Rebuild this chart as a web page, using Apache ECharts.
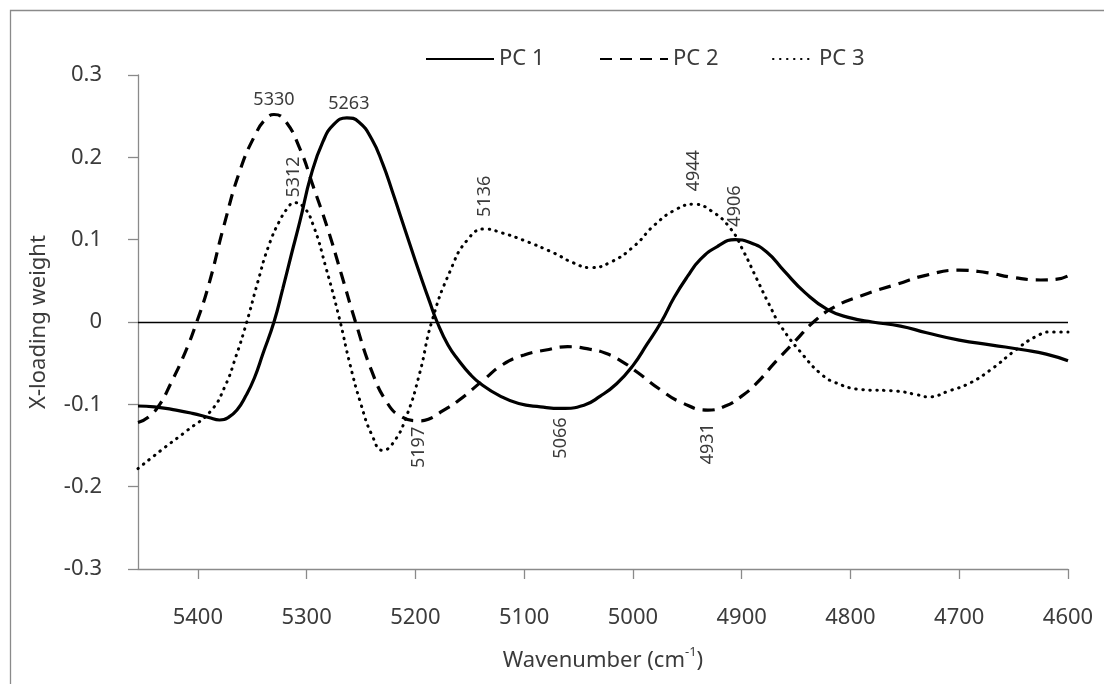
<!DOCTYPE html>
<html>
<head>
<meta charset="utf-8">
<title>X-loading weights</title>
<script src="https://cdn.jsdelivr.net/npm/echarts@6/dist/echarts.min.js"></script>
<style>
  html, body { margin: 0; padding: 0; background: #fff; }
  #chart { width: 1104px; height: 684px; }
</style>
</head>
<body>
<div id="chart"></div>
<script>
// Wavenumber axis ticks (cm-1)
const xTicks = [5400, 5300, 5200, 5100, 5000, 4900, 4800, 4700, 4600];

// PC 1 loading weights
const pc1Wn = [5455, 5440, 5420, 5405, 5390, 5380, 5372, 5364, 5356, 5348, 5340, 5330, 5322, 5314, 5306,
  5296, 5285, 5275, 5263, 5252, 5240, 5230, 5221, 5214, 5205, 5195, 5187, 5180, 5170, 5160, 5150,
  5140, 5122, 5105, 5085, 5066, 5045, 5030, 5015, 5000, 4987, 4974, 4962, 4950, 4938, 4922, 4906,
  4893, 4877, 4861, 4842, 4821, 4800, 4780, 4754, 4730, 4700, 4670, 4640, 4620, 4600];
const pc1Val = [-0.102, -0.103, -0.107, -0.111, -0.116, -0.119, -0.116, -0.107, -0.09, -0.068, -0.038, 0.0, 0.04, 0.082, 0.123,
  0.178, 0.219, 0.240, 0.248, 0.243, 0.222, 0.192, 0.158, 0.130, 0.094, 0.055, 0.025, 0.0, -0.028, -0.047, -0.063,
  -0.075, -0.090, -0.099, -0.103, -0.105, -0.101, -0.09, -0.075, -0.053, -0.027, 0.0, 0.03, 0.055, 0.076, 0.092, 0.100,
  0.097, 0.085, 0.062, 0.036, 0.015, 0.005, 0.0, -0.005, -0.013, -0.022, -0.028, -0.034, -0.039, -0.047];

// PC 2 loading weights
const pc2Wn = [5455, 5445, 5435, 5425, 5412, 5401, 5390, 5376, 5361, 5347, 5338, 5330, 5320, 5306,
  5294, 5281, 5268, 5255, 5240, 5226, 5214, 5197, 5188, 5175, 5160, 5137, 5120, 5100, 5080, 5060,
  5040, 5025, 5010, 4995, 4975, 4955, 4931, 4915, 4900, 4886, 4870, 4850, 4834, 4815, 4790, 4757,
  4730, 4700, 4675, 4650, 4625, 4610, 4600];
const pc2Val = [-0.122, -0.115, -0.1, -0.075, -0.038, 0.0, 0.045, 0.117, 0.185, 0.228, 0.246, 0.252, 0.245, 0.21,
  0.165, 0.115, 0.058, 0.0, -0.06, -0.098, -0.114, -0.12, -0.118, -0.108, -0.095, -0.07, -0.052, -0.04, -0.034, -0.03,
  -0.033, -0.038, -0.048, -0.062, -0.082, -0.098, -0.107, -0.102, -0.09, -0.074, -0.05, -0.022, 0.0, 0.018, 0.032, 0.046,
  0.057, 0.063, 0.06, 0.054, 0.051, 0.052, 0.056];

// PC 3 loading weights
const pc3Wn = [5455, 5430, 5410, 5388, 5375, 5365, 5355, 5345, 5335, 5324, 5317, 5312, 5303, 5294,
  5282, 5270, 5260, 5250, 5240, 5230, 5220, 5208, 5196, 5185, 5168, 5152, 5136, 5120, 5100, 5073,
  5055, 5039, 5020, 4999, 4980, 4960, 4944, 4928, 4910, 4898, 4886, 4875, 4864, 4843, 4828, 4815,
  4790, 4757, 4740, 4728, 4710, 4690, 4670, 4650, 4630, 4615, 4600];
const pc3Val = [-0.178, -0.152, -0.132, -0.108, -0.078, -0.042, 0.0, 0.048, 0.092, 0.125, 0.139, 0.145, 0.14, 0.118,
  0.065, 0.005, -0.052, -0.1, -0.137, -0.156, -0.146, -0.114, -0.062, 0.0, 0.062, 0.1, 0.113, 0.108, 0.099, 0.084,
  0.072, 0.066, 0.073, 0.092, 0.118, 0.137, 0.143, 0.135, 0.113, 0.085, 0.052, 0.022, -0.005, -0.041, -0.062, -0.073,
  -0.082, -0.084, -0.088, -0.091, -0.084, -0.074, -0.057, -0.036, -0.018, -0.012, -0.012];

// Annotated band positions for each component
const pc1Peaks = [5263, 5066, 4906];
const pc2Peaks = [5330, 5197, 4931];
const pc3Peaks = [5312, 5136, 4944];

// Placement of each band annotation
const labelPlacement = {
  5330: { rotate: 0, position: 'top', distance: 6, offset: [0, 0] },
  5263: { rotate: 0, position: 'top', distance: 5, offset: [2, 0] },
  5312: { rotate: 90, position: 'top', distance: 6, offset: [-1, 0] },
  5136: { rotate: 90, position: 'top', distance: 14, offset: [-2, 0] },
  4944: { rotate: 90, position: 'top', distance: 13, offset: [0, 0] },
  4906: { rotate: 90, position: 'top', distance: 9, offset: [4, 0] },
  5197: { rotate: 90, position: 'bottom', distance: 9, offset: [3, 0] },
  5066: { rotate: 90, position: 'bottom', distance: 9, offset: [0, 0] },
  4931: { rotate: 90, position: 'bottom', distance: 10, offset: [-3, 0] }
};

const FONT = '"Noto Sans", "Open Sans", sans-serif';
const TEXT = '#3b3b3b';
const AXIS = '#8a8a8a';

function buildData(wn, val, peaks) {
  return wn.map((w, i) => {
    const item = { value: [w, val[i]] };
    if (peaks.indexOf(w) >= 0) {
      const p = labelPlacement[w];
      const vertical = p.rotate !== 0;
      item.label = {
        show: true,
        formatter: String(w),
        position: p.position,
        distance: p.distance,
        rotate: p.rotate,
        offset: p.offset,
        align: vertical ? (p.position === 'top' ? 'left' : 'right') : 'center',
        verticalAlign: vertical ? 'middle' : 'bottom',
        fontFamily: FONT,
        fontSize: 18,
        color: TEXT
      };
    }
    return item;
  });
}

const chart = echarts.init(document.getElementById('chart'), null, { renderer: 'canvas' });

function legendFor(name, left, width) {
  return {
    data: [name],
    left: left,
    top: 48,
    padding: 0,
    itemWidth: width,
    itemHeight: 14,
    selectedMode: false,
    itemStyle: { opacity: 0 },
    textStyle: { fontFamily: FONT, fontSize: 22, color: TEXT }
  };
}

const lineCommon = {
  type: 'line',
  symbol: 'circle',
  symbolSize: 0,
  showSymbol: true,
  smooth: 0.5,
  silent: true,
  animation: false,
  itemStyle: { color: '#000' },
  label: { show: false }
};

chart.setOption({
  backgroundColor: '#fff',
  animation: false,
  graphic: [
    {
      type: 'polyline',
      silent: true,
      shape: { points: [[10.5, 700], [10.5, 10.5], [1104, 10.5]] },
      style: { stroke: AXIS, lineWidth: 1.3, fill: null }
    }
  ],
  legend: [
    legendFor('PC 1', 425, 68),
    legendFor('PC 2', 599, 68),
    legendFor('PC 3', 772, 41)
  ],
  grid: { left: 138, right: 36, top: 75, bottom: 115, containLabel: false },
  xAxis: {
    type: 'value',
    inverse: true,
    min: 4600,
    max: 5455,
    interval: 100,
    name: 'Wavenumber (cm{sup|-1})',
    nameLocation: 'middle',
    nameGap: 77,
    nameTextStyle: {
      fontFamily: FONT, fontSize: 22, color: TEXT, lineHeight: 30,
      rich: { sup: { fontFamily: FONT, fontSize: 13, color: TEXT, verticalAlign: 'top', lineHeight: 30 } }
    },
    axisLine: { show: true, onZero: false, lineStyle: { color: AXIS, width: 1.3 } },
    axisTick: { show: true, length: 10, inside: false, customValues: xTicks, lineStyle: { color: AXIS, width: 1.3 } },
    axisLabel: {
      customValues: xTicks, margin: 38, fontFamily: FONT, fontSize: 22, color: TEXT,
      formatter: v => String(v)
    },
    splitLine: { show: false }
  },
  yAxis: {
    type: 'value',
    min: -0.3,
    max: 0.3,
    interval: 0.1,
    name: 'X-loading weight',
    nameLocation: 'middle',
    nameGap: 88,
    nameTextStyle: { fontFamily: FONT, fontSize: 22, color: TEXT },
    axisLine: { show: true, lineStyle: { color: AXIS, width: 1.3 } },
    axisTick: { show: true, length: 10, inside: false, lineStyle: { color: AXIS, width: 1.3 } },
    axisLabel: {
      margin: 36, fontFamily: FONT, fontSize: 22, color: TEXT,
      formatter: v => String(Math.round(v * 10) / 10)
    },
    splitLine: { show: false }
  },
  series: [
    Object.assign({}, lineCommon, {
      name: 'PC 1',
      z: 3,
      lineStyle: { color: '#000', width: 3.2, type: 'solid' },
      data: buildData(pc1Wn, pc1Val, pc1Peaks),
      markLine: {
        silent: true,
        symbol: 'none',
        label: { show: false },
        lineStyle: { color: '#000', width: 1.3, type: 'solid' },
        data: [{ yAxis: 0 }]
      }
    }),
    Object.assign({}, lineCommon, {
      name: 'PC 2',
      z: 2,
      lineStyle: { color: '#000', width: 3.2, type: [12, 8], cap: 'butt' },
      data: buildData(pc2Wn, pc2Val, pc2Peaks)
    }),
    Object.assign({}, lineCommon, {
      name: 'PC 3',
      z: 2,
      lineStyle: { color: '#000', width: 3, type: [0.5, 6.5], cap: 'round' },
      data: buildData(pc3Wn, pc3Val, pc3Peaks)
    })
  ]
});
</script>
</body>
</html>
